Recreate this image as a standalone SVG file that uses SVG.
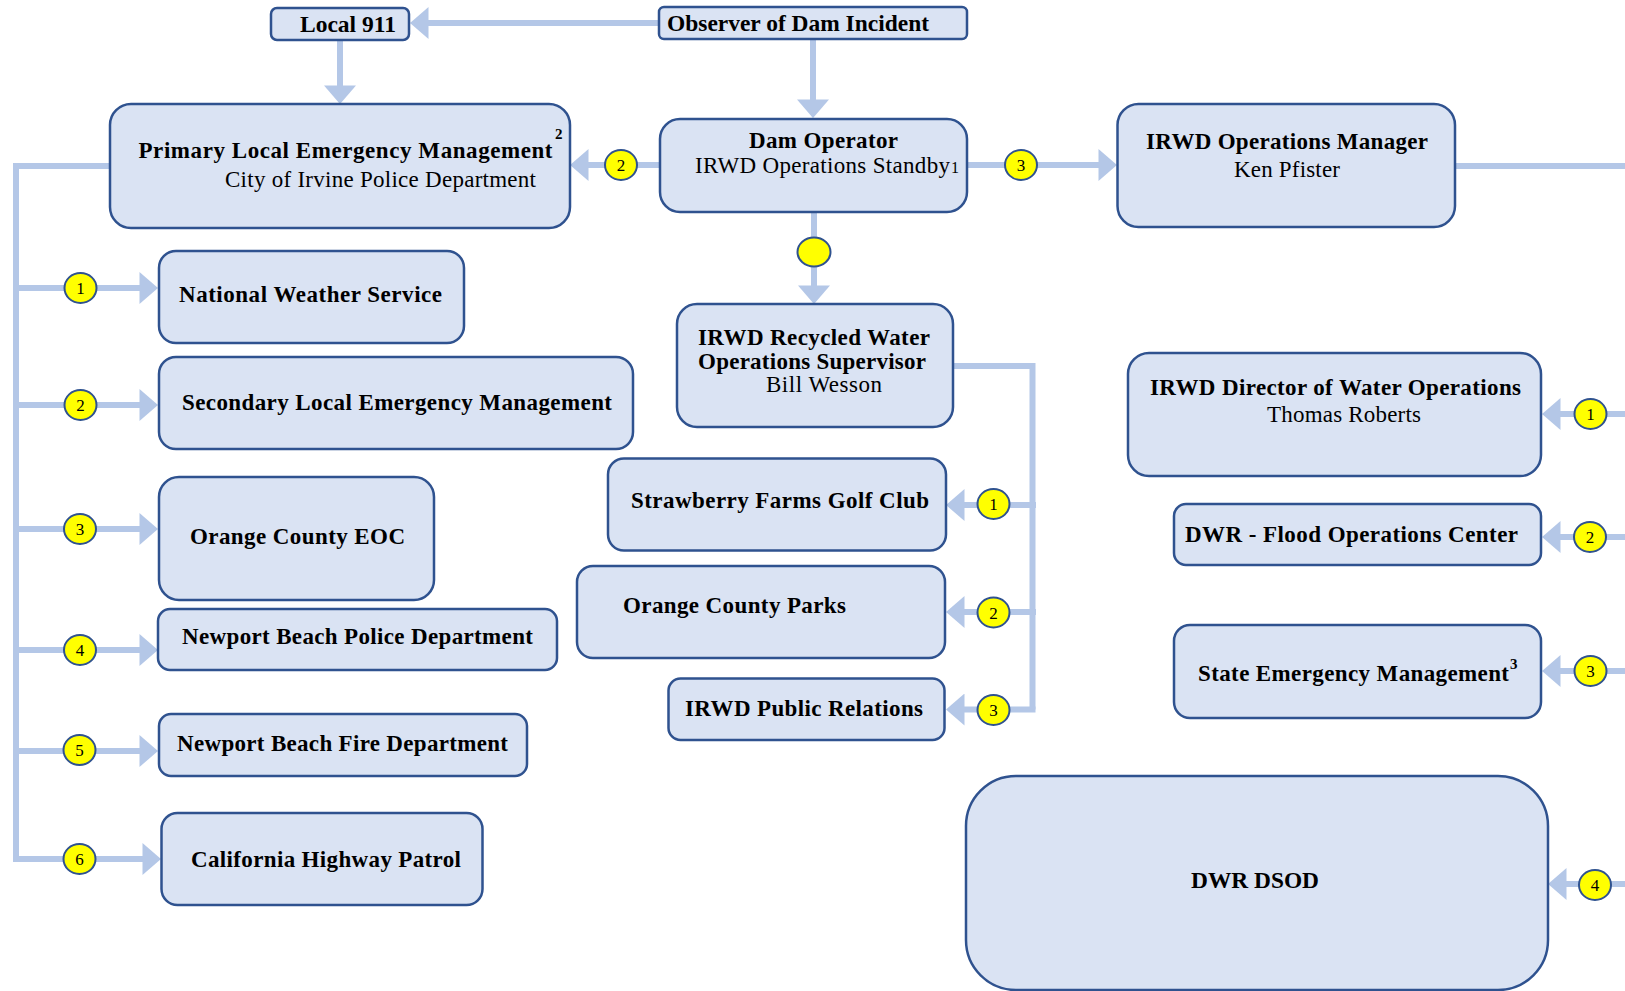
<svg xmlns="http://www.w3.org/2000/svg" width="1625" height="991" viewBox="0 0 1625 991">
<style>
.box{fill:#DAE3F3;stroke:#2F528F;stroke-width:2.5}
.con{fill:none;stroke:#B4C7E7;stroke-width:6}
.arr{marker-end:url(#ah)}
.dot{fill:#FFFF00;stroke:#2F528F;stroke-width:2}
text{font-family:"Liberation Serif","Times New Roman",serif;fill:#000}
.b{font-size:23px;font-weight:bold}
.r{font-size:23px}
.n{font-size:17px;text-anchor:middle}
.s{font-size:15px;font-weight:bold}
</style>
<defs>
<marker id="ah" markerUnits="userSpaceOnUse" markerWidth="19" markerHeight="32" viewBox="0 0 18 31" refX="0.5" refY="15.5" orient="auto">
<path d="M0,0 L18,15.5 L0,31 Z" fill="#B4C7E7"/>
</marker>
</defs>
<rect width="1625" height="991" fill="#FFFFFF"/>
<g id="connectors">
<path class="con arr" d="M659,23 H428"/>
<path class="con arr" d="M340,40 V86"/>
<path class="con arr" d="M813,39 V100"/>
<path class="con arr" d="M660,165 H588"/>
<path class="con arr" d="M967,165 H1099"/>
<path class="con" d="M1455,166 H1625"/>
<path class="con arr" d="M814,212 V286"/>
<path class="con" d="M110,166 H16 V859"/>
<path class="con arr" d="M13,288 H140"/>
<path class="con arr" d="M13,405 H140"/>
<path class="con arr" d="M13,529 H140"/>
<path class="con arr" d="M13,650 H140"/>
<path class="con arr" d="M13,751 H140"/>
<path class="con arr" d="M13,859 H143"/>
<path class="con" d="M953,366 H1032.5 V709.5"/>
<path class="con arr" d="M1036,505 H964"/>
<path class="con arr" d="M1036,612 H964"/>
<path class="con arr" d="M1035.5,709.5 H964"/>
<path class="con arr" d="M1625,414 H1560"/>
<path class="con arr" d="M1625,537 H1560"/>
<path class="con arr" d="M1625,671 H1560"/>
<path class="con arr" d="M1625,884 H1566"/>
<g id="badges">
<ellipse class="dot" cx="621" cy="165" rx="16" ry="15"/><text class="n" x="621" y="171">2</text>
<ellipse class="dot" cx="1021" cy="165" rx="16" ry="15"/><text class="n" x="1021" y="171">3</text>
<ellipse class="dot" cx="814" cy="252" rx="16.5" ry="14.5"/>
<ellipse class="dot" cx="80.5" cy="288" rx="16" ry="15"/><text class="n" x="80.5" y="294">1</text>
<ellipse class="dot" cx="80.5" cy="405" rx="16" ry="15"/><text class="n" x="80.5" y="411">2</text>
<ellipse class="dot" cx="80" cy="529" rx="16" ry="15"/><text class="n" x="80" y="535">3</text>
<ellipse class="dot" cx="80" cy="650" rx="16" ry="15"/><text class="n" x="80" y="656">4</text>
<ellipse class="dot" cx="79.5" cy="750" rx="16" ry="15"/><text class="n" x="79.5" y="756">5</text>
<ellipse class="dot" cx="79.5" cy="859" rx="16" ry="15"/><text class="n" x="79.5" y="865">6</text>
<ellipse class="dot" cx="993.5" cy="504" rx="16" ry="15"/><text class="n" x="993.5" y="510">1</text>
<ellipse class="dot" cx="993.5" cy="612.5" rx="16" ry="15"/><text class="n" x="993.5" y="618.5">2</text>
<ellipse class="dot" cx="993.5" cy="710" rx="16" ry="15"/><text class="n" x="993.5" y="716">3</text>
<ellipse class="dot" cx="1590.5" cy="414" rx="16" ry="15"/><text class="n" x="1590.5" y="420">1</text>
<ellipse class="dot" cx="1590" cy="537" rx="16" ry="15"/><text class="n" x="1590" y="543">2</text>
<ellipse class="dot" cx="1590.5" cy="671" rx="16" ry="15"/><text class="n" x="1590.5" y="677">3</text>
<ellipse class="dot" cx="1595" cy="885" rx="16" ry="15"/><text class="n" x="1595" y="891">4</text>
</g>
</g>
<g id="local911"><rect class="box" x="271" y="8" width="138" height="32" rx="6"/><text class="b" x="300" y="32" textLength="96" lengthAdjust="spacingAndGlyphs">Local 911</text></g>
<g id="observer"><rect class="box" x="659" y="7" width="308" height="32" rx="5"/><text class="b" x="667" y="31" textLength="262" lengthAdjust="spacingAndGlyphs">Observer of Dam Incident</text></g>
<g id="primary"><rect class="box" x="110" y="104" width="460" height="124" rx="21"/><text class="b" x="138.5" y="158" textLength="414" lengthAdjust="spacing">Primary  Local Emergency  Management</text><text class="s" x="555" y="139">2</text><text class="r" x="225" y="187" textLength="311" lengthAdjust="spacing">City of Irvine Police Department</text></g>
<g id="damop"><rect class="box" x="660" y="119" width="307" height="93" rx="20"/><text class="b" x="749" y="148" textLength="149" lengthAdjust="spacing">Dam Operator</text><text class="r" x="695" y="173" textLength="255" lengthAdjust="spacing">IRWD Operations Standby</text><text x="951" y="173" style="font-size:16px">1</text></g>
<g id="opsmgr"><rect class="box" x="1117.5" y="104" width="337.5" height="123" rx="21"/><text class="b" x="1146" y="149" textLength="282" lengthAdjust="spacing">IRWD Operations Manager</text><text class="r" x="1234" y="177" textLength="106" lengthAdjust="spacing">Ken Pfister</text></g>
<g id="nws"><rect class="box" x="159" y="251" width="305" height="92" rx="17"/><text class="b" x="179" y="302" textLength="263" lengthAdjust="spacing">National  Weather  Service</text></g>
<g id="secondary"><rect class="box" x="159" y="357" width="474" height="92" rx="17"/><text class="b" x="182" y="410" textLength="430" lengthAdjust="spacing">Secondary  Local Emergency  Management</text></g>
<g id="oceoc"><rect class="box" x="159" y="477" width="275" height="123" rx="20"/><text class="b" x="190" y="544" textLength="215" lengthAdjust="spacing">Orange  County  EOC</text></g>
<g id="nbpd"><rect class="box" x="158" y="609" width="399" height="61" rx="12"/><text class="b" x="182" y="644" textLength="351" lengthAdjust="spacing">Newport Beach Police Department</text></g>
<g id="nbfd"><rect class="box" x="159" y="714" width="368" height="62" rx="12"/><text class="b" x="177" y="751" textLength="331" lengthAdjust="spacing">Newport Beach Fire Department</text></g>
<g id="chp"><rect class="box" x="161.5" y="813" width="321" height="92" rx="16"/><text class="b" x="191" y="867" textLength="270" lengthAdjust="spacing">California  Highway  Patrol</text></g>
<g id="recycled"><rect class="box" x="677" y="304" width="276" height="123" rx="20"/><text class="b" x="698" y="345" textLength="232" lengthAdjust="spacing">IRWD Recycled Water</text><text class="b" x="698" y="369" textLength="228" lengthAdjust="spacing">Operations Supervisor</text><text class="r" x="766" y="392" textLength="116" lengthAdjust="spacing">Bill Wesson</text></g>
<g id="strawberry"><rect class="box" x="608" y="458.5" width="338" height="92" rx="16"/><text class="b" x="631" y="508" textLength="298" lengthAdjust="spacing">Strawberry Farms Golf Club</text></g>
<g id="ocparks"><rect class="box" x="577" y="566" width="368" height="92" rx="16"/><text class="b" x="623" y="613" textLength="223" lengthAdjust="spacing">Orange  County  Parks</text></g>
<g id="irwdpr"><rect class="box" x="668.5" y="678.5" width="276" height="61.5" rx="12"/><text class="b" x="685" y="716" textLength="238" lengthAdjust="spacing">IRWD Public  Relations</text></g>
<g id="director"><rect class="box" x="1128" y="353" width="413" height="123" rx="21"/><text class="b" x="1150" y="395" textLength="371" lengthAdjust="spacing">IRWD Director of Water Operations</text><text class="r" x="1267" y="422" textLength="154" lengthAdjust="spacing">Thomas Roberts</text></g>
<g id="dwrflood"><rect class="box" x="1174" y="504" width="367" height="61" rx="12"/><text class="b" x="1185" y="542" textLength="333" lengthAdjust="spacing">DWR -  Flood Operations  Center</text></g>
<g id="stateem"><rect class="box" x="1174" y="625" width="367" height="93" rx="16"/><text class="b" x="1198" y="681" textLength="311" lengthAdjust="spacing">State Emergency  Management</text><text class="s" x="1510" y="669">3</text></g>
<g id="dsod"><rect class="box" x="966" y="776" width="582" height="214" rx="50"/><text class="b" x="1191" y="888" textLength="128" lengthAdjust="spacingAndGlyphs">DWR DSOD</text></g>
</svg>
